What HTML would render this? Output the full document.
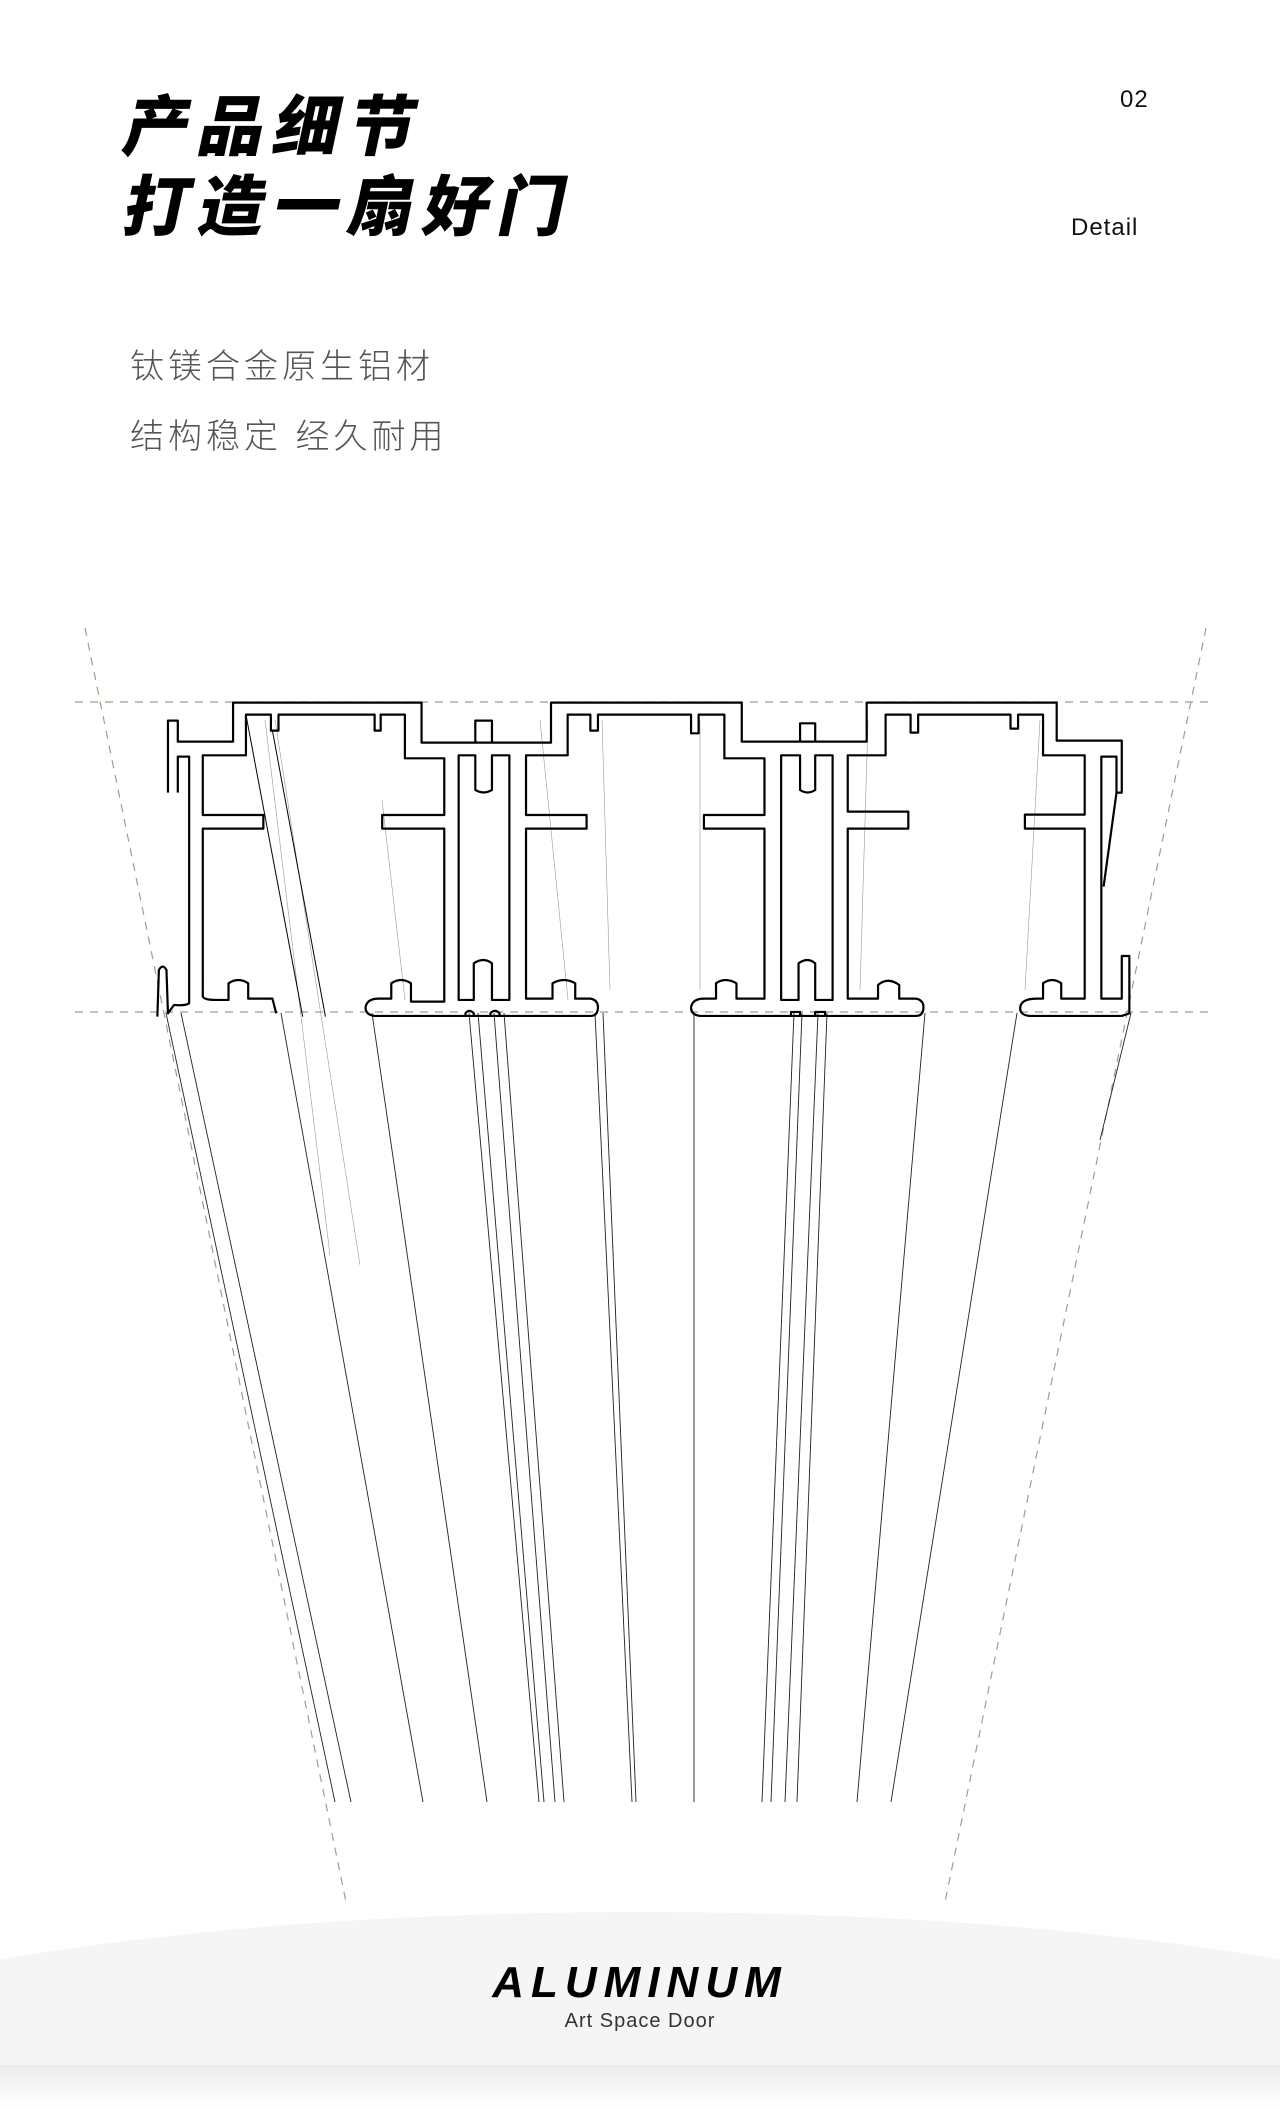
<!DOCTYPE html>
<html><head><meta charset="utf-8">
<style>
html,body{margin:0;padding:0;background:#fff;}
body{width:1280px;height:2109px;position:relative;overflow:hidden;font-family:"Liberation Sans","Noto Sans CJK SC",sans-serif;}
.t{position:absolute;left:118px;font-family:"Liberation Sans","Noto Sans CJK SC",sans-serif;font-weight:900;font-size:66px;line-height:66px;color:#000;letter-spacing:9px;transform:skewX(-12deg);transform-origin:left bottom;white-space:nowrap;}
.s{position:absolute;left:130px;font-family:"Liberation Sans","Noto Sans CJK SC",sans-serif;font-size:34px;line-height:40px;color:#555;letter-spacing:4px;font-weight:300;white-space:nowrap;}
.r{position:absolute;font-size:24px;color:#111;letter-spacing:1px;}
</style></head><body>
<div class="t" style="top:94px">产品细节</div>
<div class="t" style="top:174px">打造一扇好门</div>
<div class="r" style="left:1120px;top:86px;">02</div>
<div class="r" style="left:1071px;top:214px;">Detail</div>
<div class="s" style="top:347px">钛镁合金原生铝材</div>
<div class="s" style="top:417px">结构稳定 经久耐用</div>

<svg width="1280" height="2109" style="position:absolute;left:0;top:0;display:block" xmlns="http://www.w3.org/2000/svg">
<defs>
<linearGradient id="band" x1="0" y1="0" x2="0" y2="1">
<stop offset="0" stop-color="#ebebeb"/><stop offset="1" stop-color="#ffffff"/>
</linearGradient>
</defs>
<ellipse cx="640" cy="2090" rx="940" ry="178" fill="#f5f5f5"/>
<rect x="0" y="2065" width="1280" height="44" fill="url(#band)"/>

<g stroke="#a89a88" stroke-width="1.2" stroke-dasharray="8,7" fill="none">
<line x1="75" y1="702" x2="1212" y2="702"/>
<line x1="75" y1="1012" x2="1212" y2="1012"/>
<line x1="85" y1="628" x2="346" y2="1902"/>
<line x1="1206" y1="628" x2="945" y2="1902"/>
</g>

<g stroke="#222" stroke-width="0.9" fill="none">
<line x1="166" y1="1013" x2="335" y2="1802"/>
<line x1="181" y1="1013" x2="351" y2="1802"/>
<line x1="281" y1="1013" x2="423" y2="1802"/>
<line x1="372" y1="1013" x2="487" y2="1802"/>
<line x1="469" y1="1013" x2="539" y2="1802"/>
<line x1="478" y1="1013" x2="544" y2="1802"/>
<line x1="494" y1="1013" x2="555" y2="1802"/>
<line x1="504" y1="1013" x2="564" y2="1802"/>
<line x1="595" y1="1013" x2="632" y2="1802"/>
<line x1="603" y1="1013" x2="636" y2="1802"/>
<line x1="694" y1="1013" x2="694" y2="1802"/>
<line x1="794" y1="1013" x2="762" y2="1802"/>
<line x1="802" y1="1013" x2="771" y2="1802"/>
<line x1="818" y1="1013" x2="785" y2="1802"/>
<line x1="827" y1="1013" x2="797" y2="1802"/>
<line x1="925" y1="1013" x2="857" y2="1802"/>
<line x1="1017" y1="1013" x2="891" y2="1802"/>
<line x1="1131" y1="1013" x2="1100" y2="1140"/>
</g>
<g stroke="#999" stroke-width="0.6" fill="none">
<line x1="265" y1="720" x2="330" y2="1255"/>
<line x1="275" y1="720" x2="360" y2="1265"/>
<line x1="382" y1="800" x2="405" y2="1000"/>
<line x1="540" y1="720" x2="568" y2="1000"/>
<line x1="602" y1="720" x2="610" y2="990"/>
<line x1="700" y1="720" x2="700" y2="990"/>
<line x1="868" y1="720" x2="860" y2="990"/>
<line x1="1040" y1="720" x2="1025" y2="990"/>
</g>

<g transform="translate(52.9,600) scale(0.757,0.3333)" fill="none" stroke="#000" stroke-width="2.2" stroke-linejoin="round">
<path vector-effect="non-scaling-stroke" d="M152,578 L152,362 L165,362 L165,425 L238,425 L238,308 L487,308 L487,428 L658,428 L658,308 L910,308 L910,425 L1075,425 L1075,308 L1326,308 L1326,422 L1412,422 L1412,578 L1405,578 L1405,470 L1385,470 L1385,1196 L1412,1196 L1412,1068 L1422,1068 L1422,1240 L1412,1248 L1290,1248 Q1276,1244 1278,1220 Q1280,1196 1300,1196 L1308,1196 L1308,1150 Q1320,1130 1332,1150 L1332,1196 L1363,1196 L1363,686 L1284,686 L1284,644 L1363,644 L1363,466 L1308,466 L1308,344 L1275,344 L1275,386 L1265,386 L1265,344 L1143,344 L1143,398 L1133,398 L1133,344 L1100,344 L1100,466 L1050,466 L1050,635 L1130,635 L1130,686 L1050,686 L1050,1196 L1090,1196 L1090,1155 Q1103,1130 1118,1155 L1118,1196 L1140,1196 Q1150,1200 1150,1222 Q1150,1248 1140,1248 L855,1248 Q843,1245 843,1222 Q845,1196 860,1196 L876,1196 L876,1150 Q888,1130 903,1150 L903,1196 L940,1196 L940,686 L860,686 L860,645 L940,645 L940,475 L887,475 L887,344 L853,344 L853,400 L843,400 L843,344 L720,344 L720,392 L710,392 L710,344 L680,344 L680,466 L625,466 L625,645 L705,645 L705,686 L625,686 L625,1196 L660,1196 L660,1150 Q675,1130 690,1150 L690,1196 L710,1196 Q720,1200 720,1222 Q720,1248 710,1248 L425,1248 Q413,1245 413,1222 Q415,1196 430,1196 L447,1196 L447,1150 Q460,1130 473,1150 L473,1205 L517,1205 L517,686 L435,686 L435,645 L517,645 L517,475 L465,475 L465,344 L433,344 L433,392 L425,392 L425,344 L298,344 L298,392 L288,392 L288,344 L255,344 L255,466 L198,466 L198,645 L278,645 L278,686 L198,686 L198,1190 Q200,1200 215,1200 L232,1200 L232,1150 Q245,1130 258,1150 L258,1196 L290,1196 L295,1240"/>
<path vector-effect="non-scaling-stroke" d="M165,578 L165,470 L180,470 L180,1210 Q175,1218 160,1215 L152,1240 L150,1110 Q145,1090 140,1110 L138,1250"/>
<path vector-effect="non-scaling-stroke" d="M536,1200 L536,466 L558,466 L558,570 Q569,585 580,570 L580,466 L603,466 L603,1200 L580,1200 L580,1090 Q569,1070 556,1090 L556,1200 Z"/>
<path vector-effect="non-scaling-stroke" d="M558,428 L558,362 L580,362 L580,428"/>
<path vector-effect="non-scaling-stroke" d="M962,1200 L962,466 L987,466 L987,570 Q997,585 1007,570 L1007,466 L1030,466 L1030,1200 L1007,1200 L1007,1090 Q997,1070 985,1090 L985,1200 Z"/>
<path vector-effect="non-scaling-stroke" d="M987,425 L987,370 L1007,370 L1007,425"/>
<path vector-effect="non-scaling-stroke" d="M1405,578 L1388,860"/>
<path vector-effect="non-scaling-stroke" d="M545,1250 L545,1240 Q550,1225 556,1240 L556,1250 M578,1250 L578,1240 Q584,1225 590,1240 L590,1250 M975,1248 L975,1236 L987,1236 L987,1248 M1007,1248 L1007,1236 L1020,1236 L1020,1248"/>
<path vector-effect="non-scaling-stroke" stroke-width="1" d="M255,344 L330,1250 M290,392 L360,1250"/>
</g>
</svg>

<div style="position:absolute;left:0;width:1280px;top:1958px;text-align:center;font-family:'Liberation Sans',sans-serif;font-weight:900;font-style:italic;font-size:44px;line-height:50px;letter-spacing:7px;color:#000;">ALUMINUM</div>
<div style="position:absolute;left:0;width:1280px;top:2009px;text-align:center;font-family:'Liberation Sans',sans-serif;font-size:20px;line-height:24px;letter-spacing:1px;color:#333;">Art Space Door</div>
</body></html>
